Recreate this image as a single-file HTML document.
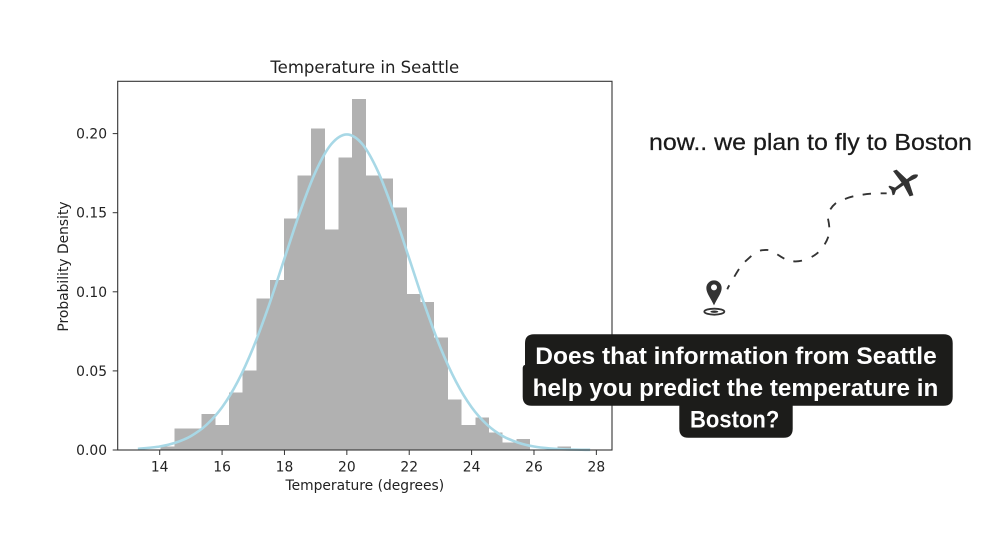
<!DOCTYPE html>
<html lang="en">
<head>
<meta charset="utf-8">
<title>Temperature in Seattle</title>
<style>
html,body{margin:0;padding:0;background:#fff;}
body{width:1000px;height:553px;overflow:hidden;}
svg{display:block;}
.mpl{font-family:"DejaVu Sans",sans-serif;fill:#222;}
.ov{font-family:"Liberation Sans",sans-serif;}
</style>
</head>
<body>
<svg id="root" xmlns="http://www.w3.org/2000/svg" width="1000" height="553" viewBox="0 0 1000 553">
  <g id="chart"></g>

  <text class="ov" x="649" y="150" font-size="23" fill="#1a1a1a" stroke="#1a1a1a" stroke-width="0.25" textLength="323" lengthAdjust="spacingAndGlyphs">now.. we plan to fly to Boston</text>

  <g>
    <g transform="translate(690 160) scale(0.3333)">
      <g fill="none" stroke="#333" stroke-width="5.5" stroke-linecap="butt">
        <path d="M112 388 Q114 382 118 376"/>
        <path d="M133 350 Q140 338 147 327"/>
        <path d="M165 305 Q175 296 184 288"/>
        <path d="M210 272 Q222 269 235 270"/>
        <path d="M262 283 Q272 290 283 296"/>
        <path d="M310 304 Q323 305 336 302"/>
        <path d="M365 291 Q376 285 385 277"/>
        <path d="M404 253 Q411 242 415 230"/>
        <path d="M418 202 Q417 189 414 176"/>
        <path d="M421 148 Q428 137 438 129"/>
        <path d="M465 117 Q477 112 490 109"/>
        <path d="M518 104 Q530 102 543 101"/>
        <path d="M572 100 L590 100"/>
      </g>
      <path fill="#333" fill-rule="evenodd" d="M72 436 C62 414 49 400 49 384 A23 23 0 0 1 95 384 C95 400 82 414 72 436 Z M72 373 A9 9 0 1 0 72 391 A9 9 0 1 0 72 373 Z"/>
      <ellipse cx="73" cy="455" rx="30" ry="9" fill="none" stroke="#333" stroke-width="5.5"/>
      <ellipse cx="73" cy="455" rx="12" ry="3.5" fill="#333"/>
    </g>
    <path fill="#333" d="M917.8 174.6 Q914.5 173.8 911.5 175.6 L906.8 179.2 L896.6 169.6 L893 171 L901.6 182.6 L895 187.6 L889.6 185.6 L888.4 186.8 L891.4 190.2 L892.6 195.2 L894.4 194.8 L896 190.4 L903.6 185.2 L909.6 196.4 L913.4 195.2 L909 181.6 L915.6 178.4 Q918.4 176.4 917.8 174.6 Z"/>
  </g>

  <g>
    <path fill="#1c1c1a" d="M534 334.3 H943.7 Q952.7 334.3 952.7 343.3 V396.7 Q952.7 405.7 943.7 405.7 H792.7 V428.7 Q792.7 437.7 783.7 437.7 H688.3 Q679.3 437.7 679.3 428.7 V405.7 H531.7 Q522.7 405.7 522.7 396.7 V369 Q522.7 365 525 365 V343.3 Q525 334.3 534 334.3 Z"/>
    <text class="ov" x="535.3" y="364" font-size="24" font-weight="700" fill="#fff" textLength="401.4" lengthAdjust="spacingAndGlyphs">Does that information from Seattle</text>
    <text class="ov" x="532.7" y="396" font-size="24" font-weight="700" fill="#fff" textLength="405.6" lengthAdjust="spacingAndGlyphs">help you predict the temperature in</text>
    <text class="ov" x="690" y="427.3" font-size="24" font-weight="700" fill="#fff" textLength="89.3" lengthAdjust="spacingAndGlyphs">Boston?</text>
  </g>
</svg>

<script>
// Chart data
const binStart = 14.03;
const binWidth = 0.4386;
const density = [0.0023,0.0137,0.0137,0.0228,0.0158,0.0365,0.0504,0.0959,0.1075,0.1462,0.1736,0.2033,0.1395,0.185,0.2219,0.1736,0.1717,0.1534,0.0986,0.0936,0.071,0.032,0.0158,0.0204,0.0112,0.0046,0.0068,0,0,0.0023];
const curveTemps = [13.3,14,14.5,15,15.5,16,16.5,17,17.5,18,18.5,19,19.5,20,20.5,21,21.5,22,22.5,23,23.5,24,24.5,25,25.5,26,26.5,27,27.8];
const curveDensity = [0.0007,0.0022,0.0046,0.0088,0.0159,0.027,0.0432,0.0648,0.0913,0.121,0.1506,0.176,0.1933,0.1995,0.1933,0.176,0.1506,0.121,0.0913,0.0648,0.0432,0.027,0.0159,0.0088,0.0046,0.0022,0.001,0.0004,0.0001];
const xTicks = [14,16,18,20,22,24,26,28];
const yTicks = [0,0.05,0.1,0.15,0.2];
const yTickLabels = ['0.00','0.05','0.10','0.15','0.20'];

const NS = 'http://www.w3.org/2000/svg';
const chart = document.getElementById('chart');
const X = t => 159.7 + (t - 14) * 31.19;
const Y = v => 450 - v * 1582;
const AX = {left:117.7, right:612, top:81.3, bottom:450};

function make(tag, attrs, parent) {
  const el = document.createElementNS(NS, tag);
  for (const k in attrs) el.setAttribute(k, attrs[k]);
  parent.appendChild(el);
  return el;
}

// bars
density.forEach((d, i) => {
  if (d <= 0) return;
  const x0 = X(binStart + i * binWidth);
  const x1 = X(binStart + (i + 1) * binWidth);
  const bar = make('rect', {x:x0, y:Y(d), width:x1 - x0, height:Y(0) - Y(d), fill:'#b1b1b1', 'shape-rendering':'crispEdges'}, chart);
  
  
});

// density curve (smooth path through read points)
const pts = curveTemps.map((t, i) => [X(t), Y(curveDensity[i])]);
let d = 'M' + pts[0][0] + ' ' + pts[0][1];
for (let i = 0; i < pts.length - 1; i++) {
  const p0 = pts[Math.max(i - 1, 0)], p1 = pts[i], p2 = pts[i + 1], p3 = pts[Math.min(i + 2, pts.length - 1)];
  const c1 = [p1[0] + (p2[0] - p0[0]) / 6, p1[1] + (p2[1] - p0[1]) / 6];
  const c2 = [p2[0] - (p3[0] - p1[0]) / 6, p2[1] - (p3[1] - p1[1]) / 6];
  d += ' C' + c1[0] + ' ' + c1[1] + ' ' + c2[0] + ' ' + c2[1] + ' ' + p2[0] + ' ' + p2[1];
}
const curve = make('path', {d:d, fill:'none', stroke:'#a8d8e6', 'stroke-width':2.6}, chart);



// axes frame
const frame = make('rect', {x:AX.left, y:AX.top, width:AX.right - AX.left, height:AX.bottom - AX.top, fill:'none', stroke:'#333', 'stroke-width':1.1}, chart);



// x ticks
xTicks.forEach(t => {
  const tick = make('line', {x1:X(t), x2:X(t), y1:AX.bottom, y2:AX.bottom + 5, stroke:'#333', 'stroke-width':1}, chart);
  
  
  const label = make('text', {x:X(t), y:471.5, 'text-anchor':'middle', 'font-size':13.85, class:'mpl'}, chart);
  label.textContent = String(t);
  
  
});

// y ticks
yTicks.forEach((v, i) => {
  const tick = make('line', {x1:AX.left - 5, x2:AX.left, y1:Y(v), y2:Y(v), stroke:'#333', 'stroke-width':1}, chart);
  
  
  const label = make('text', {x:107, y:Y(v) + 5, 'text-anchor':'end', 'font-size':13.85, class:'mpl'}, chart);
  label.textContent = yTickLabels[i];
  
  
});

// titles
const title = make('text', {x:364.8, y:73, 'text-anchor':'middle', 'font-size':16.55, class:'mpl'}, chart);
title.textContent = 'Temperature in Seattle';



const xTitle = make('text', {x:364.8, y:490, 'text-anchor':'middle', 'font-size':13.85, class:'mpl'}, chart);
xTitle.textContent = 'Temperature (degrees)';



const yTitle = make('text', {x:0, y:0, 'text-anchor':'middle', 'font-size':13.85, class:'mpl', transform:'translate(68 266.5) rotate(-90)'}, chart);
yTitle.textContent = 'Probability Density';


</script>
</body>
</html>
